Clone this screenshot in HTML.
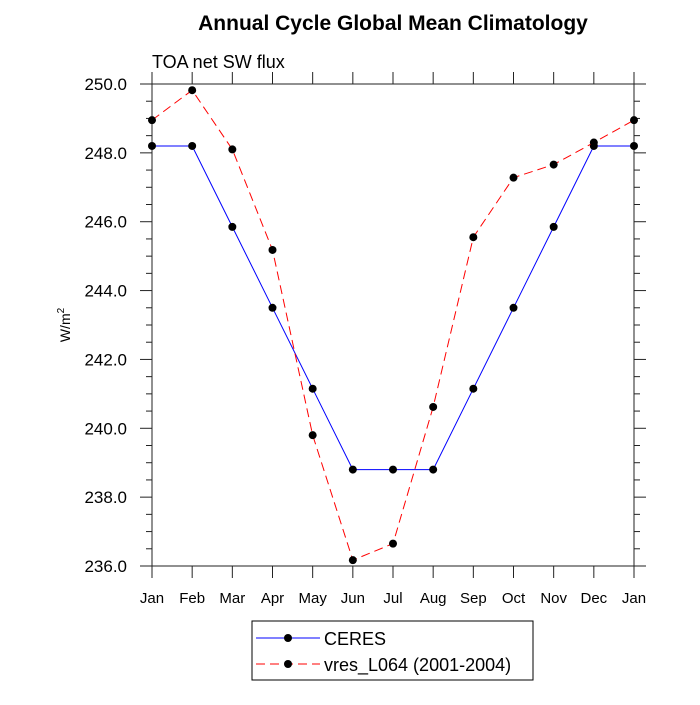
<!DOCTYPE html>
<html><head><meta charset="utf-8"><style>
body{margin:0;background:#fff}
svg text{font-family:"Liberation Sans",sans-serif}
</style></head><body>
<svg id="chart" width="700" height="700" viewBox="0 0 700 700">
<rect width="700" height="700" fill="#fff"/>
<text x="393" y="30" text-anchor="middle" font-size="21" font-weight="bold">Annual Cycle Global Mean Climatology</text>
<text x="152" y="68" font-size="18">TOA net SW flux</text>
<text transform="translate(70,325) rotate(-90)" text-anchor="middle" font-size="14">W/m<tspan dy="-6" font-size="10">2</tspan></text>
<g id="axes"></g>
<g id="series"></g>
<g>
<rect x="252" y="621" width="281" height="59" fill="none" stroke="#000" stroke-width="1"/>
<line x1="256" y1="638" x2="320" y2="638" stroke="#0000ff" stroke-width="1"/>
<circle cx="288" cy="638" r="4" fill="#000"/>
<text x="324" y="645" font-size="18">CERES</text>
<line x1="256" y1="664" x2="320" y2="664" stroke="#ff0000" stroke-width="1" stroke-dasharray="9,5"/>
<circle cx="288" cy="664" r="4" fill="#000"/>
<text x="324" y="671" font-size="18">vres_L064 (2001-2004)</text>
</g>
</svg>
<script>
const months=["Jan","Feb","Mar","Apr","May","Jun","Jul","Aug","Sep","Oct","Nov","Dec","Jan"];
const ceres=[248.2,248.2,245.85,243.5,241.15,238.8,238.8,238.8,241.15,243.5,245.85,248.2,248.2];
const vres=[248.95,249.82,248.1,245.18,239.8,236.17,236.65,240.62,245.55,247.28,247.66,248.3,248.95];
const yTicks=[236,238,240,242,244,246,248,250];
const X0=152,X1=634,Y0=566,Y1=84,YMIN=236,YMAX=250;
const xs=i=>X0+(X1-X0)*i/(months.length-1);
const ys=v=>Y0-(v-YMIN)/(YMAX-YMIN)*(Y0-Y1);
const NS="http://www.w3.org/2000/svg";
function mk(t,a,p){const e=document.createElementNS(NS,t);for(const k in a)e.setAttribute(k,a[k]);p.appendChild(e);return e;}
const ax=document.getElementById('axes');
const fr=mk('rect',{x:X0,y:Y1,width:X1-X0,height:Y0-Y1,fill:'none',stroke:'#222','stroke-width':1},ax);


months.forEach((m,i)=>{const x=xs(i);
mk('line',{x1:x,y1:Y0,x2:x,y2:Y0+12,stroke:'#222'},ax);
mk('line',{x1:x,y1:Y1,x2:x,y2:Y1-12,stroke:'#222'},ax);
const t=mk('text',{x:x,y:Y0+37,'text-anchor':'middle','font-size':15},ax);t.textContent=m;

});
for(let v=YMIN;v<=YMAX+1e-9;v+=0.5){const y=ys(v);const L=(Math.abs(v-Math.round(v/2)*2)<1e-9)?12:6;
mk('line',{x1:X0-L,y1:y,x2:X0,y2:y,stroke:'#222'},ax);
mk('line',{x1:X1,y1:y,x2:X1+L,y2:y,stroke:'#222'},ax);}
yTicks.forEach(v=>{const t=mk('text',{x:X0-25,y:ys(v)+6,'text-anchor':'end','font-size':17},ax);t.textContent=v.toFixed(1);

});
const sg=document.getElementById('series');
function draw(vals,color,dash,name){
const p=mk('polyline',{points:vals.map((v,i)=>xs(i)+','+ys(v)).join(' '),fill:'none',stroke:color,'stroke-width':1,'stroke-dasharray':dash},sg);


vals.forEach((v,i)=>{const c=mk('circle',{cx:xs(i),cy:ys(v),r:4,fill:'#000'},sg);

});}
draw(ceres,'#0000ff','none','ceres');
draw(vres,'#ff0000','9,5','vres');
</script>
</body></html>
